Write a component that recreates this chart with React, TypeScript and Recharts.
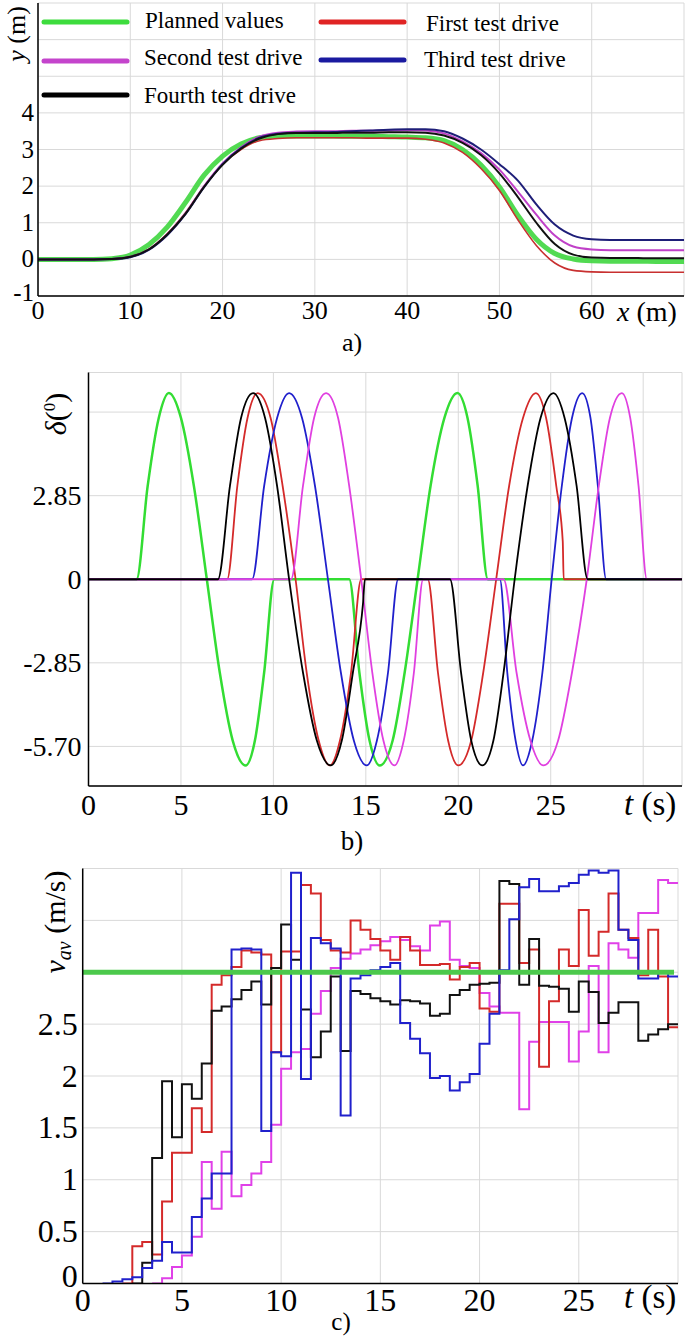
import React from 'react';
import { LineChart, Line, XAxis, YAxis, CartesianGrid, Legend } from 'recharts';

const SERIF = 'Liberation Serif, Tinos, DejaVu Serif, Noto Serif, Times New Roman, Times, serif';

// ---------------- panel a : lateral position y (m) vs x (m) ----------------
const xA = [0, 2, 4, 6, 8, 10, 12, 14, 16, 18, 20, 22, 24, 26, 28, 30, 32, 34, 36, 38, 40, 42, 44, 46, 48, 50, 52, 54, 56, 58, 60, 62, 64, 66, 68, 70];
const yPlannedA = [0, 0, 0, 0, 0.02, 0.12, 0.4, 0.88, 1.56, 2.3, 2.82, 3.15, 3.32, 3.37, 3.37, 3.37, 3.37, 3.36, 3.36, 3.35, 3.34, 3.32, 3.24, 3.0, 2.58, 1.98, 1.2, 0.55, 0.16, 0.01, -0.04, -0.05, -0.05, -0.05, -0.06, -0.06];
const yFirstA = [0, 0, 0, 0, 0.01, 0.07, 0.28, 0.7, 1.28, 2.0, 2.6, 3.0, 3.24, 3.3, 3.32, 3.32, 3.32, 3.32, 3.31, 3.31, 3.31, 3.28, 3.18, 2.92, 2.48, 1.88, 1.08, 0.38, -0.1, -0.3, -0.34, -0.35, -0.35, -0.35, -0.35, -0.35];
const ySecondA = [0, 0, 0, 0, 0.01, 0.07, 0.27, 0.68, 1.26, 2.0, 2.62, 3.06, 3.35, 3.46, 3.49, 3.5, 3.5, 3.51, 3.51, 3.52, 3.53, 3.52, 3.44, 3.22, 2.9, 2.45, 1.85, 1.22, 0.65, 0.35, 0.27, 0.25, 0.25, 0.25, 0.25, 0.25];
const yThirdA = [0, 0, 0, 0, 0.01, 0.06, 0.26, 0.66, 1.24, 1.97, 2.6, 3.04, 3.32, 3.43, 3.46, 3.47, 3.48, 3.5, 3.52, 3.54, 3.55, 3.55, 3.5, 3.3, 3.0, 2.6, 2.15, 1.5, 0.95, 0.65, 0.55, 0.53, 0.53, 0.53, 0.53, 0.53];
const yFourthA = [0, 0, 0, 0, 0.01, 0.07, 0.27, 0.68, 1.25, 1.98, 2.58, 3.02, 3.3, 3.42, 3.45, 3.45, 3.45, 3.46, 3.46, 3.47, 3.47, 3.46, 3.38, 3.18, 2.85, 2.35, 1.7, 1.0, 0.42, 0.13, 0.05, 0.04, 0.04, 0.03, 0.03, 0.03];
const xTicksA = [0, 10, 20, 30, 40, 50, 60, 70];
const xTickLabelsA = ['0', '10', '20', '30', '40', '50', '60', ''];
const yTicksA = [-1, 0, 1, 2, 3, 4, 5, 6, 7];
const yTickLabelsA = ['-1', '0', '1', '2', '3', '4', '', '', ''];

const legendNames = ['Planned values', 'First test drive', 'Second test drive', 'Third test drive', 'Fourth test drive'];
const legendColors = ['#3ddc3d', '#e02424', '#c444cc', '#1a1aa0', '#000000'];

// ---------------- panel b : steering angle delta vs t ----------------
const greenDT = [0, 2.6, 3.2, 3.8, 4.35, 5.0, 5.7, 6.4, 7.1, 7.8, 8.5, 9.0, 9.5, 10.05, 14.1, 14.65, 15.2, 15.75, 16.45, 17.1, 17.8, 18.5, 19.25, 19.95, 20.5, 21.05, 21.6, 32.1];
const greenD = [0, 0, 3.18, 5.5, 6.35, 5.5, 3.18, 0, -3.18, -5.5, -6.35, -5.5, -3.18, 0, 0, -3.18, -5.5, -6.35, -5.5, -3.18, 0, 3.18, 5.5, 6.35, 5.5, 3.18, 0, 0];
const redDT = [0, 7.5, 8.05, 8.6, 9.15, 9.85, 10.5, 11.2, 11.8, 12.45, 13.05, 13.6, 14.2, 14.75, 18.35, 18.9, 19.45, 20.0, 20.7, 21.35, 22.05, 22.75, 23.5, 24.2, 24.75, 25.3, 25.65, 25.7, 32.1];
const redD = [0, 0, 3.18, 5.5, 6.35, 5.5, 3.18, 0, -3.18, -5.5, -6.35, -5.5, -3.18, 0, 0, -3.18, -5.5, -6.35, -5.5, -3.18, 0, 3.18, 5.5, 6.35, 5.5, 3.18, 1.3, 0, 0];
const blackDT = [0, 7.0, 7.65, 8.25, 8.9, 9.55, 10.2, 10.85, 11.6, 12.35, 13.1, 13.7, 14.3, 14.85, 14.95, 19.55, 20.15, 20.7, 21.3, 21.9, 22.45, 23.05, 23.75, 24.45, 25.15, 25.75, 26.4, 27.0, 32.1];
const blackD = [0, 0, 3.18, 5.5, 6.35, 5.5, 3.18, 0, -3.18, -5.5, -6.35, -5.5, -3.18, -0.8, 0, 0, -3.18, -5.5, -6.35, -5.5, -3.18, 0, 3.18, 5.5, 6.35, 5.5, 3.18, 0, 0];
const blueDT = [0, 8.85, 9.5, 10.2, 10.85, 11.55, 12.25, 12.95, 13.65, 14.35, 15.05, 15.6, 16.2, 16.75, 22.25, 22.65, 23.1, 23.5, 24.0, 24.55, 25.05, 25.6, 26.15, 26.7, 27.15, 27.55, 28.0, 32.1];
const blueD = [0, 0, 3.18, 5.5, 6.35, 5.5, 3.18, 0, -3.18, -5.5, -6.35, -5.5, -3.18, 0, 0, -3.18, -5.5, -6.35, -5.5, -3.18, 0, 3.18, 5.5, 6.35, 5.5, 3.18, 0, 0];
const magentaDT = [0, 10.95, 11.6, 12.2, 12.85, 13.5, 14.1, 14.75, 15.35, 15.95, 16.55, 17.05, 17.6, 18.1, 22.45, 23.15, 23.9, 24.6, 25.4, 26.15, 26.95, 27.6, 28.2, 28.85, 29.3, 29.75, 30.2, 32.1];
const magentaD = [0, 0, 3.18, 5.5, 6.35, 5.5, 3.18, 0, -3.18, -5.5, -6.35, -5.5, -3.18, 0, 0, -3.18, -5.5, -6.35, -5.5, -3.18, 0, 3.18, 5.5, 6.35, 5.5, 3.18, 0, 0];
const xTicksB = [0, 5, 10, 15, 20, 25, 30];
const xTickLabelsB = ['0', '5', '10', '15', '20', '25', ''];
const yTicksB = [-5.7, -2.85, 0, 2.85, 5.7];
const yTickLabelsB = ['-5.70', '-2.85', '0', '2.85', ''];

// ---------------- panel c : average speed v_av vs t ----------------
const tC = [0, 0.5, 1, 1.5, 2, 2.5, 3, 3.5, 4, 4.5, 5, 5.5, 6, 6.5, 7, 7.5, 8, 8.5, 9, 9.5, 10, 10.5, 11, 11.5, 12, 12.5, 13, 13.5, 14, 14.5, 15, 15.5, 16, 16.5, 17, 17.5, 18, 18.5, 19, 19.5, 20, 20.5, 21, 21.5, 22, 22.5, 23, 23.5, 24, 24.5, 25, 25.5, 26, 26.5, 27, 27.5, 28, 28.5, 29, 29.5, 30];
const blackV = [null, null, null, null, null, 0,
  0.2, 1.21, 1.95, 1.41, 1.92, 1.78, 2.12, 2.63, 2.67, 2.74,
  2.83, 2.91, 2.69, 3.04, 3.46, 3.12, 2.64, 2.18, 2.43, 2.96,
  2.24, 2.82, 2.79, 2.75, 2.72, 2.69, 2.73, 2.72, 2.70, 2.58,
  2.60, 2.78, 2.83, 2.88, 2.89, 2.90, 3.88, 3.85, 2.88, 3.32,
  2.87, 2.86, 2.84, 2.62, 2.91, 2.81, 2.51, 2.61, 2.71, 2.71,
  2.34, 2.40, 2.45, 2.50, 2.50];
const redV = [null, null, null, null, 0,
  0.36, 0.40, 0.28, 0.79, 1.26,
  1.26, 1.69, 1.46, 2.88, 2.97,
  3.05, 3.21, 3.19, 3.17, 2.23,
  3.20, 3.20, 3.84, 3.76, 3.31,
  3.21, 3.19, 3.50, 3.41, 3.32,
  3.21, 3.12, 3.34, 3.21, 3.07,
  3.07, 3.08, 2.93, 3.05, 3.09,
  2.65, 2.62, 3.66, 3.66, 3.09,
  3.22, 2.09, 2.72, 3.22, 3.06,
  3.60, 3.16, 3.39, 3.76, 3.41,
  3.33, 2.97, 3.41, 2.96, 2.47,
  2.47];
const blueV = [null, null, 0,
  0.02, 0.04, 0.06, 0.15, 0.22,
  0.40, 0.30, 0.30, 0.64, 0.82,
  1.06, 1.06, 3.22, 3.23, 3.22,
  1.47, 2.23, 2.19, 3.96, 1.97,
  3.33, 3.28, 3.23, 1.62, 2.94,
  2.97, 3.02, 3.05, 3.09, 2.51,
  2.36, 2.22, 1.98, 2.00, 1.86,
  1.94, 2.02, 2.31, 2.60, 3.02,
  3.51, 3.82, 3.90, 3.78, 3.78,
  3.83, 3.86, 3.94, 3.98, 3.96,
  3.98, 3.41, 3.31, 2.94, 2.94,
  3.00, 2.96, 2.96];
const magentaV = [null, null, null, null, null, null, null, 0,
  0.05, 0.16, 0.27, 0.45, 1.17,
  0.72, 1.27, 0.84, 0.95, 1.06,
  1.17, 1.53, 2.07, 2.23, 2.26,
  2.60, 2.82, 3.04, 3.13, 3.18,
  3.22, 3.26, 3.30, 3.34, 3.31,
  3.25, 3.21, 3.45, 3.49, 3.12,
  3.06, 3.04, 2.80, 2.67, 2.61,
  2.61, 1.68, 2.33, 2.52, 2.52,
  2.52, 2.14, 2.43, 3.06, 2.23,
  3.28, 3.22, 3.14, 3.57, 3.57,
  3.89, 3.86, 3.86];
const plannedVT = [0, 29.8];
const plannedV = [3, 3];
const xTicksC = [0, 5, 10, 15, 20, 25, 30];
const xTickLabelsC = ['0', '5', '10', '15', '20', '25', ''];
const yTicksC = [0, 0.5, 1, 1.5, 2, 2.5, 3, 3.5, 4];
const yTickLabelsC = ['0', '0.5', '1', '1.5', '2', '2.5', '', '', ''];

// ---------------- builders ----------------
const rowsA = xA.map((x, i) => ({
  x,
  planned: yPlannedA[i],
  first: yFirstA[i],
  second: ySecondA[i],
  third: yThirdA[i],
  fourth: yFourthA[i],
}));
const zipT = (ts: number[], vs: number[]) => ts.map((t, i) => ({ t, d: vs[i] }));
const rowsC = tC.map((t, i) => ({ t, red: redV[i], blue: blueV[i], magenta: magentaV[i], black: blackV[i] }));
const plannedRowsC = plannedVT.map((t, i) => ({ t, v: plannedV[i] }));

const txtStyle = { fontFamily: SERIF };

function makeTick(fs: number, dx: number, dy: number, anchor: string, ticks: number[], labels: string[], firstDy = 0) {
  return (props: any) => {
    const { x, y, payload } = props;
    const idx = ticks.findIndex((v) => Math.abs(v - payload.value) < 1e-6);
    const s = idx >= 0 ? labels[idx] : '';
    return (
      <text x={x + dx} y={y + dy + (idx === 0 ? firstDy : 0)} textAnchor={anchor} fontSize={fs} style={txtStyle} fill="#000">
        {s}
      </text>
    );
  };
}

function frameAxes(xd: number[], xt: number[], yd: number[], yt: number[]) {
  const ln = { stroke: '#000', strokeWidth: 1.5 };
  const tl = { stroke: '#000', strokeWidth: 1 };
  return [
    <XAxis key="ft" xAxisId="ft" orientation="top" mirror height={0} type="number" dataKey="__none" domain={xd} ticks={xt} allowDataOverflow tick={false} tickSize={4} tickLine={tl} axisLine={ln} interval={0} />,
    <XAxis key="fb" xAxisId="fb" orientation="bottom" mirror height={0} type="number" dataKey="__none" domain={xd} ticks={xt} allowDataOverflow tick={false} tickSize={4} tickLine={tl} axisLine={false} interval={0} />,
    <YAxis key="fr" yAxisId="fr" orientation="right" mirror width={0} type="number" dataKey="__none" domain={yd} ticks={yt} allowDataOverflow tick={false} tickSize={4} tickLine={tl} axisLine={ln} interval={0} />,
    <YAxis key="fl" yAxisId="fl" orientation="left" mirror width={0} type="number" dataKey="__none" domain={yd} ticks={yt} allowDataOverflow tick={false} tickSize={4} tickLine={tl} axisLine={false} interval={0} />,
  ];
}

const legendPos = [
  { lx: 44, ly: 22, tx: 145, ty: 28 },
  { lx: 321, ly: 22, tx: 426, ty: 31 },
  { lx: 44, ly: 61, tx: 144, ty: 65 },
  { lx: 321, ly: 60, tx: 424, ty: 67 },
  { lx: 44, ly: 95, tx: 144, ty: 103 },
];

const LegendContent = () => (
  <svg width={685} height={115} style={{ display: 'block' }}>
    {legendNames.map((n, i) => (
      <g key={n}>
        <line x1={legendPos[i].lx} x2={legendPos[i].lx + 83} y1={legendPos[i].ly} y2={legendPos[i].ly} stroke={legendColors[i]} strokeWidth={5} strokeLinecap="round" />
        <text x={legendPos[i].tx} y={legendPos[i].ty} fontSize={23} style={txtStyle} fill="#000">{n}</text>
      </g>
    ))}
  </svg>
);

const GRID = '#d9d9d9';

export default function App() {
  const xdA = [0, 70];
  const ydA = [-1, 7];
  const xdB = [0, 32.1];
  const ydB = [-7.05, 7.05];
  const xdC = [0, 30];
  const ydC = [0, 4];
  return (
    <div style={{ position: 'absolute', left: 0, top: 0, width: 685, height: 1338, background: '#fff', overflow: 'hidden', fontFamily: SERIF }}>
      {/* panel a */}
      <div style={{ position: 'absolute', left: 0, top: 0 }}>
        <LineChart width={685} height={330} data={rowsA} margin={{ top: 3, right: 1, bottom: 0, left: 0 }}>
          <CartesianGrid stroke={GRID} strokeWidth={1} />
          <XAxis dataKey="x" type="number" domain={xdA} ticks={xTicksA} interval={0} height={34} tickSize={0} tickMargin={0} tickLine={false} axisLine={{ stroke: '#000', strokeWidth: 1.5 }} tick={makeTick(26, 0, 23, 'middle', xTicksA, xTickLabelsA)} />
          <YAxis type="number" domain={ydA} ticks={yTicksA} interval={0} width={38} tickSize={0} tickMargin={0} tickLine={false} axisLine={{ stroke: '#000', strokeWidth: 1.5 }} tick={makeTick(25, -4, 8, 'end', yTicksA, yTickLabelsA, -3)} />
          {frameAxes(xdA, xTicksA, ydA, yTicksA)}
          <Legend layout="horizontal" verticalAlign="middle" align="center" wrapperStyle={{ position: 'absolute', left: 0, top: 0, width: 685, height: 115 }} content={() => <LegendContent />} />
          <Line dataKey="planned" name="Planned values" type="monotone" stroke="#3fd63f" strokeWidth={5} strokeOpacity={0.9} dot={false} activeDot={false} isAnimationActive={false} />
          <Line dataKey="first" name="First test drive" type="monotone" stroke="#c83030" strokeWidth={1.6} dot={false} activeDot={false} isAnimationActive={false} />
          <Line dataKey="second" name="Second test drive" type="monotone" stroke="#c040c8" strokeWidth={2} dot={false} activeDot={false} isAnimationActive={false} />
          <Line dataKey="third" name="Third test drive" type="monotone" stroke="#1e1e78" strokeWidth={2} dot={false} activeDot={false} isAnimationActive={false} />
          <Line dataKey="fourth" name="Fourth test drive" type="monotone" stroke="#111111" strokeWidth={2} dot={false} activeDot={false} isAnimationActive={false} />
        </LineChart>
      </div>

      {/* panel b */}
      <div style={{ position: 'absolute', left: 0, top: 340 }}>
        <LineChart width={685} height={480} margin={{ top: 32.5, right: 3, bottom: 0, left: 0 }}>
          <CartesianGrid stroke={GRID} strokeWidth={1} />
          <XAxis dataKey="t" type="number" domain={xdB} ticks={xTicksB} interval={0} height={34} allowDataOverflow tickSize={0} tickMargin={0} tickLine={false} axisLine={{ stroke: '#000', strokeWidth: 1.5 }} tick={makeTick(30, 0, 29, 'middle', xTicksB, xTickLabelsB)} />
          <YAxis type="number" domain={ydB} ticks={yTicksB} interval={0} width={88.5} allowDataOverflow tickSize={0} tickMargin={0} tickLine={false} axisLine={{ stroke: '#000', strokeWidth: 1.5 }} tick={makeTick(28, -7, 9.3, 'end', yTicksB, yTickLabelsB)} />
          {frameAxes(xdB, xTicksB, ydB, yTicksB)}
          <Line data={zipT(greenDT, greenD)} dataKey="d" name="Planned values" type="monotone" stroke="#33dd33" strokeWidth={2.5} dot={false} activeDot={false} isAnimationActive={false} />
          <Line data={zipT(redDT, redD)} dataKey="d" name="First test drive" type="monotone" stroke="#d42a2a" strokeWidth={1.8} dot={false} activeDot={false} isAnimationActive={false} />
          <Line data={zipT(blueDT, blueD)} dataKey="d" name="Third test drive" type="monotone" stroke="#2020cc" strokeWidth={1.8} dot={false} activeDot={false} isAnimationActive={false} />
          <Line data={zipT(magentaDT, magentaD)} dataKey="d" name="Second test drive" type="monotone" stroke="#e040e0" strokeWidth={1.8} dot={false} activeDot={false} isAnimationActive={false} />
          <Line data={zipT(blackDT, blackD)} dataKey="d" name="Fourth test drive" type="monotone" stroke="#000000" strokeWidth={1.8} dot={false} activeDot={false} isAnimationActive={false} />
        </LineChart>
      </div>

      {/* panel c */}
      <div style={{ position: 'absolute', left: 0, top: 840 }}>
        <LineChart width={685} height={498} data={rowsC} margin={{ top: 28.5, right: 7, bottom: 0, left: 0 }}>
          <CartesianGrid stroke={GRID} strokeWidth={1} />
          <XAxis dataKey="t" type="number" domain={xdC} ticks={xTicksC} interval={0} height={54.5} allowDataOverflow tickSize={0} tickMargin={0} tickLine={false} axisLine={{ stroke: '#000', strokeWidth: 1.5 }} tick={makeTick(32, 0, 27, 'middle', xTicksC, xTickLabelsC)} />
          <YAxis type="number" domain={ydC} ticks={yTicksC} interval={0} width={82.7} allowDataOverflow tickSize={0} tickMargin={0} tickLine={false} axisLine={{ stroke: '#000', strokeWidth: 1.5 }} tick={makeTick(32, -5, 10.5, 'end', yTicksC, yTickLabelsC, -7)} />
          {frameAxes(xdC, xTicksC, ydC, yTicksC)}
          <Line dataKey="magenta" name="Second test drive" type="stepAfter" stroke="#e040e8" strokeWidth={2} dot={false} activeDot={false} isAnimationActive={false} />
          <Line dataKey="red" name="First test drive" type="stepAfter" stroke="#d42a2a" strokeWidth={2} dot={false} activeDot={false} isAnimationActive={false} />
          <Line dataKey="black" name="Fourth test drive" type="stepAfter" stroke="#111111" strokeWidth={2} dot={false} activeDot={false} isAnimationActive={false} />
          <Line dataKey="blue" name="Third test drive" type="stepAfter" stroke="#2020cc" strokeWidth={2} dot={false} activeDot={false} isAnimationActive={false} />
          <Line data={plannedRowsC} dataKey="v" name="Planned values" type="linear" stroke="#4cc94c" strokeWidth={5} dot={false} activeDot={false} isAnimationActive={false} />
        </LineChart>
      </div>

      {/* axis titles and panel captions */}
      <svg width={685} height={1338} style={{ position: 'absolute', left: 0, top: 0, pointerEvents: 'none', fontFamily: SERIF }} fill="#000">
        <text transform="translate(25,34) rotate(-90)" textAnchor="middle" fontSize={26} style={txtStyle}>
          <tspan fontStyle="italic">y</tspan> (m)
        </text>
        <text x={617} y={321} fontSize={28} style={txtStyle}>
          <tspan fontStyle="italic">x</tspan> (m)
        </text>
        <text x={352} y={351} textAnchor="middle" fontSize={26} style={txtStyle}>a)</text>

        <text transform="translate(66,414) rotate(-90)" textAnchor="middle" fontSize={30} style={txtStyle}>
          <tspan fontStyle="italic">δ</tspan>(<tspan fontSize={17} dy={-11}>0</tspan><tspan dy={11}>)</tspan>
        </text>
        <text x={624} y={815} fontSize={33} style={txtStyle}>
          <tspan fontStyle="italic">t</tspan> (s)
        </text>
        <text x={352} y={850} textAnchor="middle" fontSize={27} style={txtStyle}>b)</text>

        <text transform="translate(65,922) rotate(-90)" textAnchor="middle" fontSize={30} style={txtStyle}>
          <tspan fontStyle="italic">v</tspan>
          <tspan fontStyle="italic" fontSize={20} dy={6}>av</tspan>
          <tspan dy={-6}> (m/s)</tspan>
        </text>
        <text x={624} y={1308} fontSize={33} style={txtStyle}>
          <tspan fontStyle="italic">t</tspan> (s)
        </text>
        <text x={341} y={1330} textAnchor="middle" fontSize={25} style={txtStyle}>c)</text>
      </svg>
    </div>
  );
}
